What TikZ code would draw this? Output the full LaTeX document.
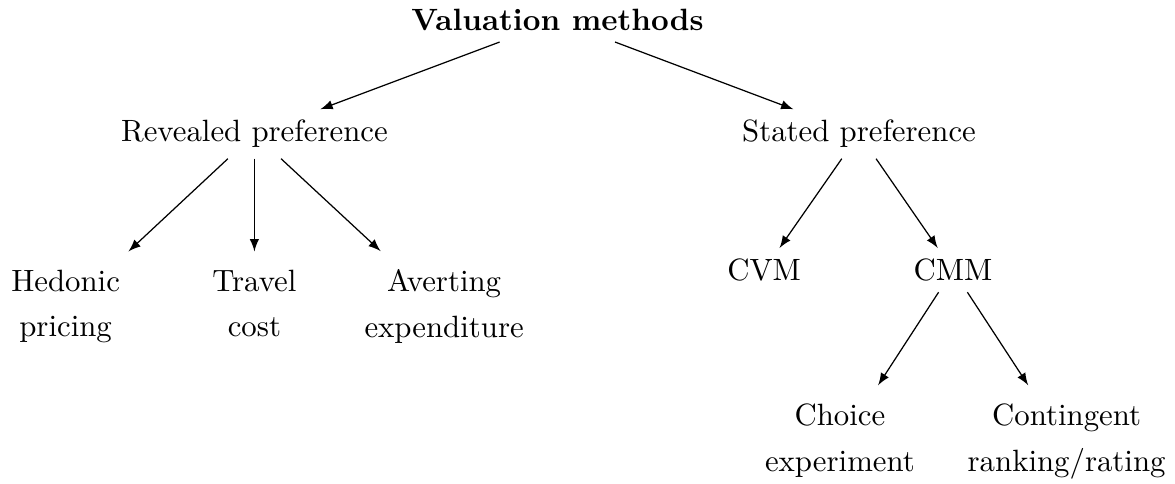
\documentclass[tikz,border=0pt]{standalone}
\begin{document}
\begin{tikzpicture}[x=1pt,y=1pt,>=latex,
    leaf/.style={align=center,inner ysep=5.7pt,font=\fontsize{10}{14.9}\selectfont,
        execute at begin node=\strut,execute at end node=\strut}]
            \useasboundingbox (0,0) rectangle (381.5,-157.1);

            \node (VM) at (181.0,-6.6) {\textbf{Valuation methods}};
            \node (RP) at (82.6,-43.5) {Revealed preference};
            \node (SP) at (278.9,-43.5) {Stated preference};

            \node[leaf] (HP) at (21.3,-100.7) {Hedonic\\pricing};
            \node[leaf] (TC) at (82.6,-100.7) {Travel\\cost};
            \node[leaf] (AE) at (144.2,-100.7) {Averting\\expenditure};
            \node (CVM) at (248.1,-87.7) {CVM};
            \node (CMM) at (309.4,-87.7) {CMM};

            \node[leaf] (CE) at (272.7,-144.2) {Choice\\experiment};
            \node[leaf] (CR) at (346.3,-144.2) {Contingent\\ranking/rating};

            \path[->] (VM) edge (RP);
            \path[->] (VM) edge (SP);
            \path[->] (RP) edge (HP);
            \path[->] (RP) edge (TC);
            \path[->] (RP) edge (AE);
            \path[->] (SP) edge (CVM);
            \path[->] (SP) edge (CMM);
            \path[->] (CMM) edge (CE);
            \path[->] (CMM) edge (CR);

        \end{tikzpicture}
\end{document}
